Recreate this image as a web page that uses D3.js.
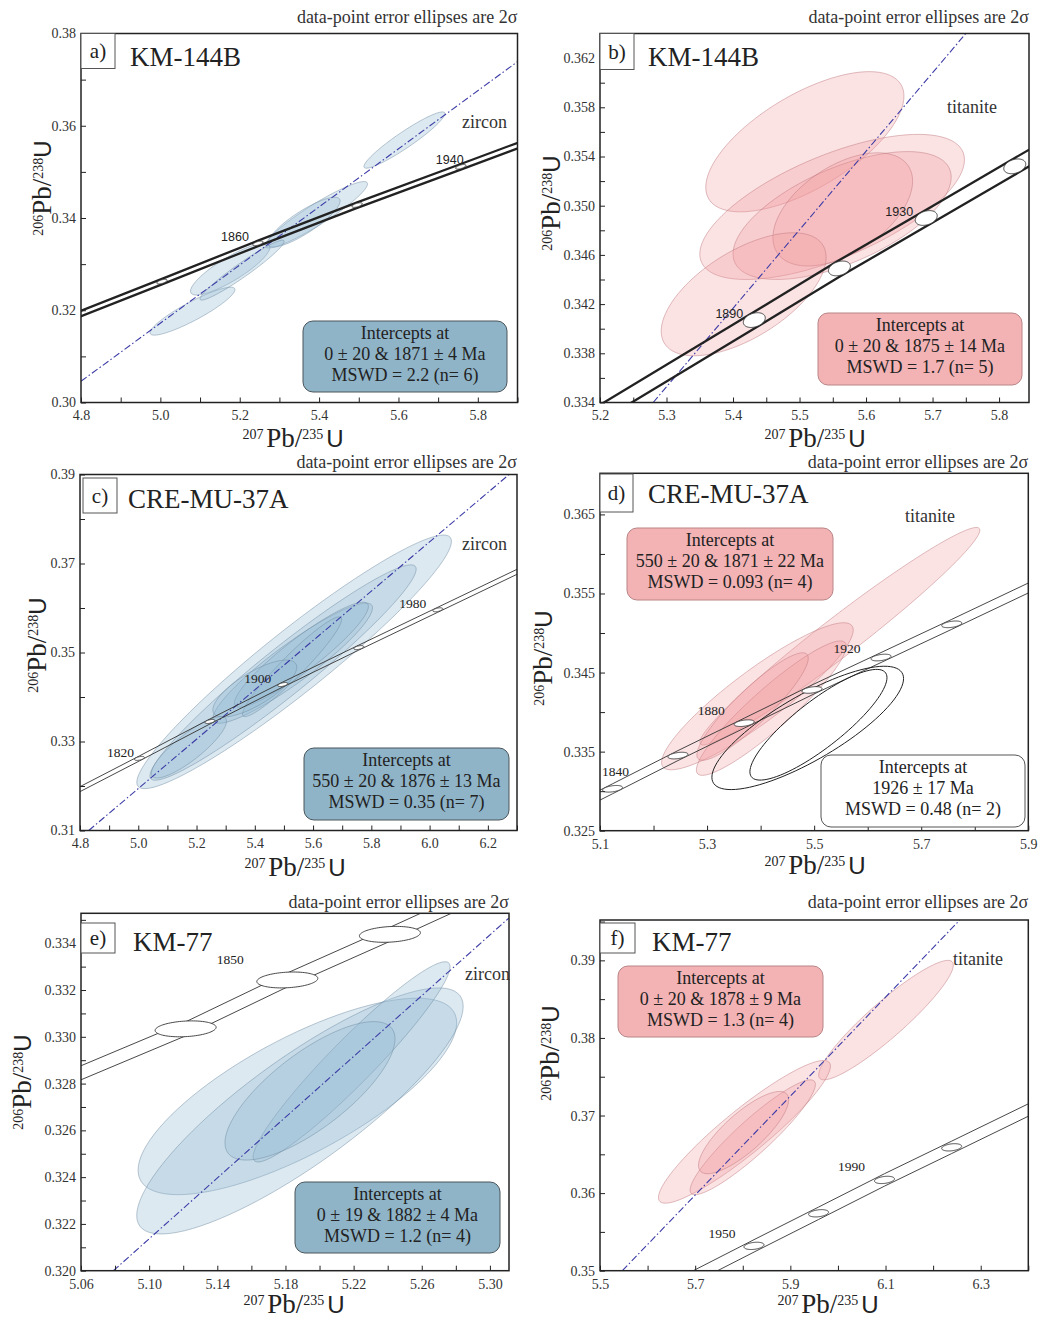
<!DOCTYPE html>
<html>
<head>
<meta charset="utf-8">
<script src="https://cdn.jsdelivr.net/npm/d3@7"></script>
<style>
body { margin: 0; background: #fff; }
</style>
</head>
<body>
<div id="fig"></div>
<script>
// ---- a) KM-144B zircon ----
const aDomainX = [4.8, 5.9], aDomainY = [0.30, 0.38];
const aTicksX = [4.8, 5.0, 5.2, 5.4, 5.6, 5.8];
const aTicksY = [0.30, 0.32, 0.34, 0.36, 0.38];
// [x, y, 2s x, 2s y, rho]
const aEllipses = [
    [5.615, 0.3569, 0.102, 0.0061, 0.94],
    [5.393, 0.3407, 0.129, 0.0072, 0.93],
    [5.362, 0.3391, 0.091, 0.0054, 0.85],
    [5.176, 0.3289, 0.100, 0.0056, 0.85],
    [5.081, 0.3198, 0.107, 0.0052, 0.90],
    [5.206, 0.3287, 0.106, 0.0065, 0.96]
];
const aMarkers = [[1820, 5.004, 0.3262], [1860, 5.246, 0.3345], [1900, 5.496, 0.3428], [1940, 5.757, 0.3511]];
const aConcordiaEnds = [[4.75, 0.3176], [5.95, 0.3573]];
const aBand = 0.0006;
const aMarkerErr = [0.013, 0.0005, 0.6];
const aAgeLabels = [1860, 1940];
const aDiscordia = [[4.8, 0.3046], [5.9, 0.3739]];
const aIntercept = ["Intercepts at", "0 \u00b1 20 & 1871 \u00b1 4 Ma", "MSWD = 2.2 (n= 6)"];

// ---- b) KM-144B titanite ----
const bDomainX = [5.2, 5.845], bDomainY = [0.334, 0.364];
const bTicksX = [5.2, 5.3, 5.4, 5.5, 5.6, 5.7, 5.8];
const bTicksY = [0.334, 0.338, 0.342, 0.346, 0.350, 0.354, 0.358, 0.362];
const bEllipses = [
    [5.508, 0.3552, 0.149, 0.0057, 0.65],
    [5.549, 0.3499, 0.199, 0.0059, 0.65],
    [5.564, 0.3492, 0.164, 0.0052, 0.60],
    [5.565, 0.3497, 0.105, 0.0046, 0.50],
    [5.416, 0.3428, 0.124, 0.0050, 0.60]
];
const bMarkers = [[1890, 5.432, 0.3407], [1910, 5.560, 0.3449], [1930, 5.6905, 0.3490], [1950, 5.8236, 0.3532]];
const bConcordiaEnds = [[5.19, 0.3328], [5.90, 0.3556]];
const bBand = 0.00068;
const bMarkerErr = [0.0165, 0.0006, 0.3];
const bAgeLabels = [1890, 1930];
const bDiscordia = [[5.28, 0.334], [5.75, 0.364]];
const bIntercept = ["Intercepts at", "0 \u00b1 20 & 1875 \u00b1 14 Ma", "MSWD = 1.7 (n= 5)"];

// ---- c) CRE-MU-37A zircon ----
const cDomainX = [4.8, 6.3], cDomainY = [0.31, 0.39];
const cTicksX = [4.8, 5.0, 5.2, 5.4, 5.6, 5.8, 6.0, 6.2];
const cTicksY = [0.31, 0.33, 0.35, 0.37, 0.39];
const cEllipses = [
    [5.535, 0.3479, 0.540, 0.0285, 0.95],
    [5.497, 0.3455, 0.457, 0.0242, 0.96],
    [5.530, 0.3476, 0.274, 0.0135, 0.92],
    [5.560, 0.3495, 0.230, 0.0118, 0.92],
    [5.528, 0.3468, 0.170, 0.0112, 0.95],
    [5.400, 0.3419, 0.144, 0.0064, 0.75],
    [5.174, 0.3287, 0.129, 0.0069, 0.85]
];
const cMarkers = [[1820, 5.004, 0.3262], [1860, 5.246, 0.3345], [1900, 5.496, 0.3428], [1940, 5.757, 0.3511], [1980, 6.028, 0.3596]];
const cConcordiaEnds = [[4.75, 0.3176], [6.35, 0.3697]];
const cBand = 0.00056;
const cMarkerErr = [0.017, 0.00045, 0.5];
const cAgeLabels = [1820, 1900, 1980];
const cDiscordia = [[4.83, 0.31], [6.30, 0.3915]];
const cIntercept = ["Intercepts at", "550 \u00b1 20 & 1876 \u00b1 13 Ma", "MSWD = 0.35 (n= 7)"];

// ---- d) CRE-MU-37A titanite ----
const dDomainX = [5.1, 5.9], dDomainY = [0.325, 0.3702];
const dTicksX = [5.1, 5.3, 5.5, 5.7, 5.9];
const dTicksY = [0.325, 0.335, 0.345, 0.355, 0.365];
const dEllipses = [
    [5.548, 0.3496, 0.2615, 0.01375, 0.975],
    [5.394, 0.3420, 0.179, 0.0093, 0.90],
    [5.420, 0.3405, 0.140, 0.0085, 0.92],
    [5.385, 0.3407, 0.104, 0.0068, 0.90]
];
const dOpenEllipses = [
    [5.488, 0.3380, 0.179, 0.0078, 0.80],
    [5.508, 0.3384, 0.128, 0.0070, 0.85]
];
const dMarkers = [[1840, 5.1234, 0.3303], [1860, 5.2456, 0.3345], [1880, 5.3694, 0.3386], [1900, 5.496, 0.3428], [1920, 5.6249, 0.3469], [1940, 5.757, 0.3511]];
const dConcordiaEnds = [[5.05, 0.3278], [5.95, 0.3573]];
const dBand = 0.00063;
const dMarkerErr = [0.0187, 0.00042, 0.4];
const dAgeLabels = [1840, 1880, 1920];
const dIntercept = ["Intercepts at", "550 \u00b1 20 & 1871 \u00b1 22 Ma", "MSWD = 0.093 (n= 4)"];
const dIntercept2 = ["Intercepts at", "1926 \u00b1 17 Ma", "MSWD = 0.48 (n= 2)"];

// ---- e) KM-77 zircon ----
const eDomainX = [5.06, 5.3112], eDomainY = [0.320, 0.33528];
const eTicksX = [5.06, 5.10, 5.14, 5.18, 5.22, 5.26, 5.30];
const eTicksY = [0.320, 0.322, 0.324, 0.326, 0.328, 0.330, 0.332, 0.334];
const eEllipses = [
    [5.187, 0.32745, 0.0935, 0.0042, 0.75],
    [5.1885, 0.32683, 0.0958, 0.00526, 0.85],
    [5.2188, 0.32893, 0.0578, 0.00428, 0.95],
    [5.1944, 0.32769, 0.0499, 0.00296, 0.75]
];
const eMarkers = [[1840, 5.1214, 0.33034], [1850, 5.1811, 0.33243], [1860, 5.2413, 0.33438]];
const eConcordiaEnds = [[5.04, 0.32785], [5.32, 0.3370]];
const eBand = 0.0003;
const eMarkerErr = [0.0179, 0.00034, 0.2];
const eAgeLabels = [1850];
const eDiscordia = [[5.079, 0.320], [5.311, 0.33507]];
const eIntercept = ["Intercepts at", "0 \u00b1 19 & 1882 \u00b1 4 Ma", "MSWD = 1.2 (n= 4)"];

// ---- f) KM-77 titanite ----
const fDomainX = [5.5, 6.4], fDomainY = [0.35, 0.3952];
const fTicksX = [5.5, 5.7, 5.9, 6.1, 6.3];
const fTicksY = [0.35, 0.36, 0.37, 0.38, 0.39];
const fEllipses = [
    [6.101, 0.3823, 0.1415, 0.0077, 0.92],
    [5.8035, 0.3679, 0.1807, 0.0092, 0.92],
    [5.821, 0.3672, 0.1316, 0.0074, 0.92],
    [5.8017, 0.3678, 0.0947, 0.0053, 0.80]
];
const fMarkers = [[1950, 5.8236, 0.3532], [1970, 5.9593, 0.3574], [1990, 6.0978, 0.3617], [2010, 6.239, 0.3659]];
const fConcordiaEnds = [[5.68, 0.3487], [6.45, 0.3722]];
const fBand = 0.0008;
const fMarkerErr = [0.021, 0.00047, 0.3];
const fAgeLabels = [1950, 1990];
const fDiscordia = [[5.547, 0.35], [6.256, 0.3952]];
const fIntercept = ["Intercepts at", "0 \u00b1 20 & 1878 \u00b1 9 Ma", "MSWD = 1.3 (n= 4)"];

const headerText = "data-point error ellipses are 2\u03c3";

const SERIF = "'Liberation Serif', 'Times New Roman', serif";
const SANS = "'Liberation Sans', Arial, sans-serif";

const tones = {
    blue: {fill: "rgb(150,188,212)", fillOp: 0.32, stroke: "rgb(110,140,162)", box: "#8fb4c8", boxStroke: "#4a555b"},
    pink: {fill: "rgb(240,150,156)", fillOp: 0.28, stroke: "rgb(190,120,126)", box: "#f3b3b5", boxStroke: "#b98486"},
    white: {box: "#ffffff", boxStroke: "#555"}
};

const panels = [
    {id: "a", frame: [81, 33.5, 517.5, 402.5], dx: aDomainX, dy: aDomainY, xTicks: aTicksX, yTicks: aTicksY,
     xStep: 0.1, yStep: 0.01, xFmt: ".1f", yFmt: ".2f", tone: "blue", ellipses: aEllipses,
     markers: aMarkers, ends: aConcordiaEnds, band: aBand, markerErr: aMarkerErr, ageLabels: aAgeLabels,
     discordia: aDiscordia, thick: true, headerY: 23,
     ageOffsets: {1860: [-23, -2], 1940: [-11, -3]},
     letter: "a)", letterBox: [81, 33.5, 34, 35], title: "KM-144B", titlePos: [130, 66],
     mineral: "zircon", mineralPos: [462, 128], xLabel: [293, 447], yLabel: [51, 188],
     boxes: [{rect: [303, 321, 204, 71], tone: "blue", lines: aIntercept}]},
    {id: "b", frame: [600, 33.5, 1029, 402.5], dx: bDomainX, dy: bDomainY, xTicks: bTicksX, yTicks: bTicksY,
     xStep: 0.05, yStep: 0.002, xFmt: ".1f", yFmt: ".3f", tone: "pink", ellipses: bEllipses,
     markers: bMarkers, ends: bConcordiaEnds, band: bBand, markerErr: bMarkerErr, ageLabels: bAgeLabels,
     discordia: bDiscordia, thick: true, headerY: 23,
     ageOffsets: {1890: [-25, -2], 1930: [-27, -2]},
     letter: "b)", letterBox: [600, 33.5, 34, 36], title: "KM-144B", titlePos: [648, 66],
     mineral: "titanite", mineralPos: [947, 113], xLabel: [815, 447], yLabel: [560, 203],
     boxes: [{rect: [818, 313, 204, 72], tone: "pink", lines: bIntercept}]},
    {id: "c", frame: [80, 474.5, 517, 830.5], dx: cDomainX, dy: cDomainY, xTicks: cTicksX, yTicks: cTicksY,
     xStep: 0.1, yStep: 0.01, xFmt: ".1f", yFmt: ".2f", tone: "blue", ellipses: cEllipses,
     markers: cMarkers, ends: cConcordiaEnds, band: cBand, markerErr: cMarkerErr, ageLabels: cAgeLabels,
     discordia: cDiscordia, thick: false, headerY: 468,
     ageOffsets: {1820: [-19, -1], 1900: [-25, -2], 1980: [-25, -2]},
     letter: "c)", letterBox: [83, 478, 34, 35], title: "CRE-MU-37A", titlePos: [128, 508],
     mineral: "zircon", mineralPos: [462, 550], xLabel: [295, 876], yLabel: [46, 645],
     boxes: [{rect: [304, 748, 205, 72], tone: "blue", lines: cIntercept}]},
    {id: "d", frame: [600, 473.3, 1028.3, 830.7], dx: dDomainX, dy: dDomainY, xTicks: dTicksX, yTicks: dTicksY,
     xStep: 0.1, yStep: 0.005, xFmt: ".1f", yFmt: ".3f", tone: "pink", ellipses: dEllipses, open: dOpenEllipses,
     markers: dMarkers, ends: dConcordiaEnds, band: dBand, markerErr: dMarkerErr, ageLabels: dAgeLabels,
     discordia: null, thick: false, headerY: 468,
     ageOffsets: {1840: [3, -13], 1880: [-33, -8], 1920: [-34, -5]},
     letter: "d)", letterBox: [600, 474, 33, 38], title: "CRE-MU-37A", titlePos: [648, 503],
     mineral: "titanite", mineralPos: [905, 522], xLabel: [815, 874], yLabel: [552, 658],
     boxes: [{rect: [627, 528, 206, 72], tone: "pink", lines: dIntercept},
             {rect: [821, 755, 204, 72], tone: "white", lines: dIntercept2}]},
    {id: "e", frame: [81, 913.3, 509, 1270.7], dx: eDomainX, dy: eDomainY, xTicks: eTicksX, yTicks: eTicksY,
     xStep: 0.02, yStep: 0.001, xFmt: ".2f", yFmt: ".3f", tone: "blue", ellipses: eEllipses,
     markers: eMarkers, ends: eConcordiaEnds, band: eBand, markerErr: eMarkerErr, ageLabels: eAgeLabels,
     discordia: eDiscordia, thick: false, headerY: 908,
     ageOffsets: {1850: [-57, -16]},
     letter: "e)", letterBox: [81, 923, 34, 30], title: "KM-77", titlePos: [133, 951],
     mineral: "zircon", mineralPos: [465, 980], xLabel: [294, 1313], yLabel: [31, 1082],
     boxes: [{rect: [295, 1182, 205, 71], tone: "blue", lines: eIntercept}]},
    {id: "f", frame: [600, 920, 1028.3, 1270.7], dx: fDomainX, dy: fDomainY, xTicks: fTicksX, yTicks: fTicksY,
     xStep: 0.1, yStep: 0.005, xFmt: ".1f", yFmt: ".2f", tone: "pink", ellipses: fEllipses,
     markers: fMarkers, ends: fConcordiaEnds, band: fBand, markerErr: fMarkerErr, ageLabels: fAgeLabels,
     discordia: fDiscordia, thick: false, headerY: 908,
     ageOffsets: {1950: [-32, -8], 1990: [-33, -9]},
     letter: "f)", letterBox: [600, 923, 35, 30], title: "KM-77", titlePos: [652, 951],
     mineral: "titanite", mineralPos: [953, 965], xLabel: [828, 1313], yLabel: [559, 1053],
     boxes: [{rect: [618, 966, 205, 71], tone: "pink", lines: fIntercept}]}
];

const svg = d3.select("#fig")
    .append("svg")
    .attr("width", 1039)
    .attr("height", 1320)
    .style("font-family", SERIF);

svg.append("rect").attr("width", 1039).attr("height", 1320).attr("fill", "#fff");

// error ellipse outline from centre, 2-sigma half widths and correlation
function ellipsePts(e) {
    const [cx, cy, hx, hy, rho] = e;
    const s = Math.sqrt(1 - rho * rho);
    return d3.range(96).map(i => {
        const t = 2 * Math.PI * i / 96;
        return [cx + hx * Math.cos(t), cy + hy * (rho * Math.cos(t) + s * Math.sin(t))];
    });
}

function stepTicks(domain, step) {
    const n = Math.floor((domain[1] - domain[0]) / step + 1e-6);
    return d3.range(n + 1).map(i => +(domain[0] + i * step).toFixed(5));
}

function isLabelled(list, v) {
    return list.some(t => Math.abs(t - v) < 1e-7);
}

function isoLabel(text, top, bottom, spaced) {
    const gap = spaced ? "\u2009" : "";
    text.append("tspan").attr("font-size", 14).attr("dy", -8).text(top + gap);
    text.append("tspan").attr("font-size", 27).attr("dy", 8).text("Pb/");
    text.append("tspan").attr("font-size", 14).attr("dy", -8).text(bottom + gap);
    text.append("tspan").attr("font-size", 24).attr("dy", 8).attr("font-family", SANS).text("U");
}

function drawPanel(p) {
    const [x0, y0, x1, y1] = p.frame;
    const x = d3.scaleLinear().domain(p.dx).range([x0, x1]);
    const y = d3.scaleLinear().domain(p.dy).range([y1, y0]);
    const tone = tones[p.tone];

    const g = svg.append("g");
    g.append("clipPath")
        .attr("id", "clip-" + p.id)
        .append("rect")
        .attr("x", x0).attr("y", y0)
        .attr("width", x1 - x0).attr("height", y1 - y0);

    const plot = g.append("g").attr("clip-path", `url(#clip-${p.id})`);

    const line = d3.line().x(d => x(d[0])).y(d => y(d[1]));
    const closed = d3.line().x(d => x(d[0])).y(d => y(d[1])).curve(d3.curveLinearClosed);

    plot.selectAll("path.err")
        .data(p.ellipses)
        .join("path")
        .attr("class", "err")
        .attr("d", e => closed(ellipsePts(e)))
        .attr("fill", tone.fill)
        .attr("fill-opacity", tone.fillOp)
        .attr("stroke", tone.stroke)
        .attr("stroke-opacity", 0.6)
        .attr("stroke-width", 0.8);

    if (p.discordia) {
        plot.append("path")
            .attr("d", line(p.discordia))
            .attr("fill", "none")
            .attr("stroke", "#3b3ba6")
            .attr("stroke-width", 1.1)
            .attr("stroke-dasharray", "7,2.5,1.5,2.5");
    }

    // concordia band
    const centre = [p.ends[0], ...p.markers.map(m => [m[1], m[2]]), p.ends[1]];
    [1, -1].forEach(s => {
        plot.append("path")
            .attr("d", line(centre.map(c => [c[0], c[1] + s * p.band])))
            .attr("fill", "none")
            .attr("stroke", p.thick ? "#222" : "#333")
            .attr("stroke-width", p.thick ? 2.3 : 0.9);
    });

    if (p.open) {
        plot.selectAll("path.open")
            .data(p.open)
            .join("path")
            .attr("class", "open")
            .attr("d", e => closed(ellipsePts(e)))
            .attr("fill", "none")
            .attr("stroke", "#222")
            .attr("stroke-width", 1);
    }

    plot.selectAll("path.mk")
        .data(p.markers)
        .join("path")
        .attr("class", "mk")
        .attr("d", m => closed(ellipsePts([m[1], m[2], ...p.markerErr])))
        .attr("fill", "#fff")
        .attr("stroke", "#333")
        .attr("stroke-width", 0.9);

    p.markers.filter(m => p.ageLabels.includes(m[0])).forEach(m => {
        const off = p.ageOffsets[m[0]];
        g.append("text")
            .attr("x", x(m[1]) + off[0])
            .attr("y", y(m[2]) + off[1])
            .attr("text-anchor", "middle")
            .attr("font-family", p.thick ? SANS : SERIF)
            .attr("font-size", p.thick ? 12.5 : 13.5)
            .attr("fill", "#222")
            .text(m[0]);
    });

    // axes with inward ticks
    const xt = stepTicks(p.dx, p.xStep);
    const yt = stepTicks(p.dy, p.yStep);
    const ax = g.append("g")
        .attr("transform", `translate(0,${y1})`)
        .call(d3.axisBottom(x).tickValues(xt).tickSizeInner(-5).tickSizeOuter(0).tickPadding(8)
            .tickFormat(v => isLabelled(p.xTicks, v) ? d3.format(p.xFmt)(v) : ""));
    const ay = g.append("g")
        .attr("transform", `translate(${x0},0)`)
        .call(d3.axisLeft(y).tickValues(yt).tickSizeInner(-5).tickSizeOuter(0).tickPadding(5)
            .tickFormat(v => isLabelled(p.yTicks, v) ? d3.format(p.yFmt)(v) : ""));
    [ax, ay].forEach(a => {
        a.select(".domain").remove();
        a.selectAll("line").attr("stroke", "#222").attr("stroke-width", 1);
        a.selectAll("text").attr("font-family", SERIF).attr("font-size", 14).attr("fill", "#333");
    });

    g.append("rect")
        .attr("x", x0).attr("y", y0)
        .attr("width", x1 - x0).attr("height", y1 - y0)
        .attr("fill", "none")
        .attr("stroke", "#222")
        .attr("stroke-width", 1.5);

    // intercept boxes
    p.boxes.forEach(b => {
        const [bx, by, bw, bh] = b.rect;
        const bt = tones[b.tone];
        g.append("rect")
            .attr("x", bx).attr("y", by)
            .attr("width", bw).attr("height", bh)
            .attr("rx", 10)
            .attr("fill", bt.box)
            .attr("stroke", bt.boxStroke)
            .attr("stroke-width", 1);
        b.lines.forEach((t, i) => {
            g.append("text")
                .attr("x", bx + bw / 2)
                .attr("y", by + 18 + i * 21)
                .attr("text-anchor", "middle")
                .attr("font-size", 18)
                .attr("fill", "#222")
                .text(t);
        });
    });

    // panel letter, sample name, mineral
    const [lx, ly, lw, lh] = p.letterBox;
    g.append("rect")
        .attr("x", lx).attr("y", ly)
        .attr("width", lw).attr("height", lh)
        .attr("fill", "#fff")
        .attr("stroke", "#555")
        .attr("stroke-width", 1);
    g.append("text")
        .attr("x", lx + lw / 2)
        .attr("y", ly + lh / 2 + 7)
        .attr("text-anchor", "middle")
        .attr("font-size", 21)
        .attr("fill", "#222")
        .text(p.letter);

    g.append("text")
        .attr("x", p.titlePos[0])
        .attr("y", p.titlePos[1])
        .attr("font-size", 27)
        .attr("fill", "#222")
        .text(p.title);

    g.append("text")
        .attr("x", p.mineralPos[0])
        .attr("y", p.mineralPos[1])
        .attr("font-size", 18)
        .attr("fill", "#333")
        .text(p.mineral);

    g.append("text")
        .attr("x", x1)
        .attr("y", p.headerY)
        .attr("text-anchor", "end")
        .attr("font-size", 18)
        .attr("fill", "#333")
        .text(headerText);

    // axis titles
    const xl = g.append("text")
        .attr("x", p.xLabel[0])
        .attr("y", p.xLabel[1])
        .attr("text-anchor", "middle")
        .attr("fill", "#222");
    isoLabel(xl, "207", "235", true);

    const yl = g.append("text")
        .attr("transform", `translate(${p.yLabel[0]},${p.yLabel[1]}) rotate(-90)`)
        .attr("text-anchor", "middle")
        .attr("fill", "#222");
    isoLabel(yl, "206", "238", false);
}

panels.forEach(drawPanel);
</script>
</body>
</html>
